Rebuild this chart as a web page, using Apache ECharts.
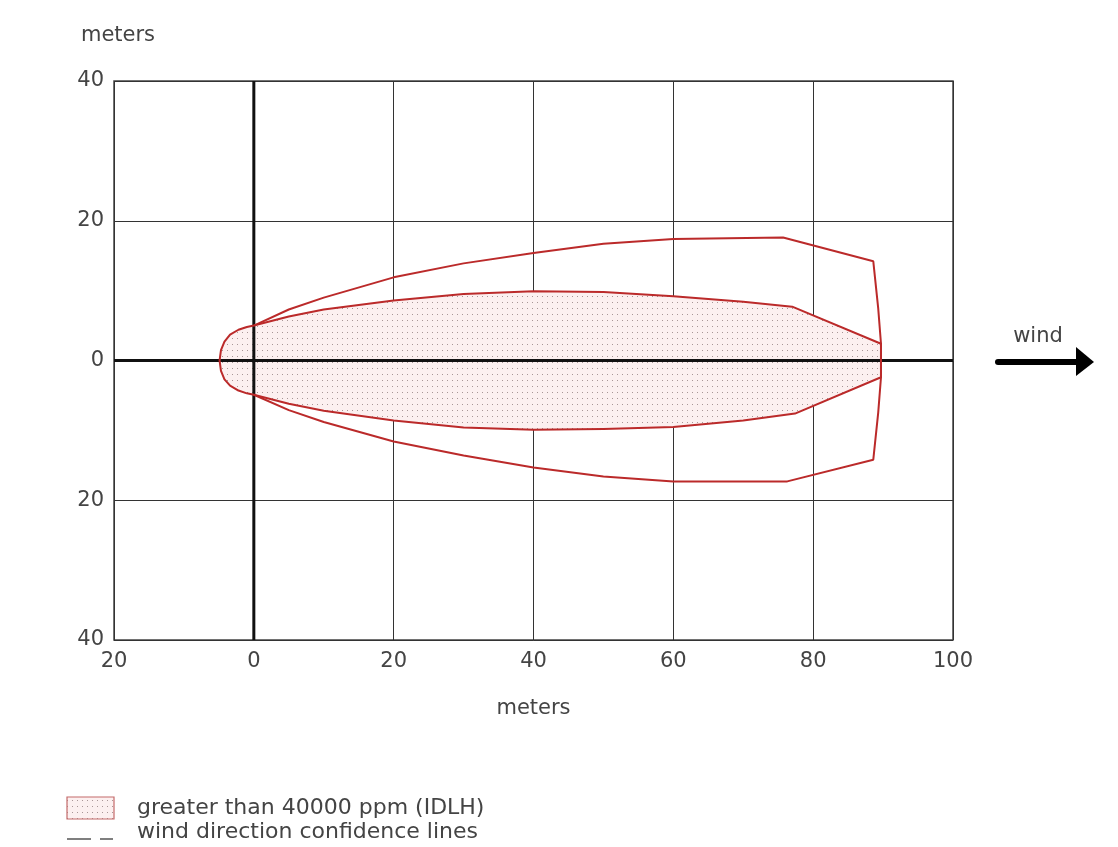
<!DOCTYPE html>
<html>
<head>
<meta charset="utf-8">
<script src="https://cdn.jsdelivr.net/npm/echarts@6/dist/echarts.min.js"></script>
<style>html,body{margin:0;padding:0;background:#fff;}#c{width:1118px;height:847px;}</style>
</head>
<body>
<div id="c"></div>
<script>
// ---- data (meters) ----
const xTicks = [-20, 0, 20, 40, 60, 80, 100];
const yTicks = [-40, -20, 0, 20, 40];
// inner filled region (> 40000 ppm, IDLH) boundary, closed polygon
const innerUpper = [[-4.9,0],[-4.7,1.5],[-4.2,2.7],[-3.4,3.7],[-2.2,4.4],[-1,4.8],[0,5.0],[5,6.3],[10,7.3],[20,8.6],[30,9.5],[40,9.9],[50,9.8],[60,9.2],[70,8.4],[77,7.7],[89.7,2.4]];
const innerLower = [[89.7,-2.4],[77.4,-7.6],[70,-8.6],[60,-9.5],[50,-9.8],[40,-9.9],[30,-9.6],[20,-8.6],[10,-7.2],[5,-6.2],[0,-4.9],[-1,-4.7],[-2.2,-4.3],[-3.4,-3.6],[-4.2,-2.7],[-4.7,-1.5]];
// wind direction confidence lines (outer contour)
const outerLine = [[0,5.0],[5,7.3],[10,9.0],[20,11.9],[30,13.9],[40,15.4],[50,16.7],[60,17.4],[75.7,17.6],[88.6,14.2],[89.3,7.5],[89.7,2.4],[89.7,-2.4],[89.3,-7.5],[88.6,-14.2],[76.3,-17.3],[60,-17.3],[50,-16.6],[40,-15.3],[30,-13.6],[20,-11.6],[10,-8.8],[5,-7.1],[0,-4.9]];
const legendLabels = ['greater than 40000 ppm (IDLH)', 'wind direction confidence lines'];

const innerPoly = innerUpper.concat(innerLower);
const xMin = xTicks[0], xMax = xTicks[xTicks.length-1];
const yMin = yTicks[0], yMax = yTicks[yTicks.length-1];

// dotted fill pattern
function makePattern(){
  const cv = document.createElement('canvas');
  cv.width = 5; cv.height = 6;
  const ctx = cv.getContext('2d');
  ctx.fillStyle = '#fcf0f0';
  ctx.fillRect(0,0,5,6);
  ctx.fillStyle = '#a89696';
  ctx.fillRect(2,2,1,1);
  return cv;
}
const pat = makePattern();
const patFill = {image: pat, repeat: 'repeat'};

const FONT = 'DejaVu Sans';
const RED = '#bb2a2a';
const TXT = '#444';

const chart = echarts.init(document.getElementById('c'));
chart.setOption({
  animation: false,
  grid: {left: 114, right: 165, top: 81, bottom: 207, show: true, borderColor: '#444', borderWidth: 1.5, backgroundColor: 'transparent'},
  xAxis: {
    type: 'value', min: xMin, max: xMax, interval: 20,
    name: 'meters', nameLocation: 'middle', nameGap: 58,
    nameTextStyle: {fontFamily: FONT, fontSize: 21, color: TXT},
    axisLine: {show: false, onZero: false}, axisTick: {show: false},
    axisLabel: {fontFamily: FONT, fontSize: 21, color: TXT, margin: 11, formatter: v => String(Math.abs(v))},
    splitLine: {show: true, lineStyle: {color: '#333', width: 1}}
  },
  yAxis: {
    type: 'value', min: yMin, max: yMax, interval: 20,
    name: 'meters', nameLocation: 'end', nameGap: 35,
    nameTextStyle: {fontFamily: FONT, fontSize: 21, color: TXT, align: 'center', padding: [0, 0, 0, 8]},
    axisLine: {show: false, onZero: false}, axisTick: {show: false},
    axisLabel: {fontFamily: FONT, fontSize: 21, color: TXT, margin: 10, formatter: v => String(Math.abs(v))},
    splitLine: {show: true, lineStyle: {color: '#333', width: 1}}
  },
  series: [
    {
      type: 'custom', name: legendLabels[0], z: 2,
      data: innerPoly,
      renderItem: function(params, api){
        if (params.dataIndex !== 0) return null;
        const pts = innerPoly.map(p => api.coord(p));
        return {type: 'polygon', shape: {points: pts}, style: {fill: patFill, stroke: null}};
      },
      silent: true
    },
    {
      type: 'line', z: 3, data: [[xMin,0],[xMax,0]], showSymbol: false, silent: true,
      lineStyle: {color: '#111', width: 3}
    },
    {
      type: 'line', z: 3, data: [[0,yMin],[0,yMax]], showSymbol: false, silent: true,
      lineStyle: {color: '#111', width: 3}
    },
    {
      type: 'custom', z: 4,
      data: innerPoly,
      renderItem: function(params, api){
        if (params.dataIndex !== 0) return null;
        const pts = innerPoly.map(p => api.coord(p));
        return {type: 'polygon', shape: {points: pts}, style: {fill: null, stroke: RED, lineWidth: 2, lineJoin: 'round'}};
      },
      silent: true
    },
    {
      type: 'line', name: legendLabels[1], z: 4, data: outerLine, showSymbol: false, silent: true,
      lineStyle: {color: RED, width: 2}
    }
  ],
  graphic: [
    {type: 'rect', shape: {x: 67, y: 797, width: 47, height: 22}, style: {fill: patFill, stroke: '#c46a6a', lineWidth: 1.2}},
    {type: 'text', x: 137, y: 808, style: {text: legendLabels[0], font: '22px "DejaVu Sans"', fill: TXT, verticalAlign: 'middle'}},
    {type: 'line', shape: {x1: 67, y1: 839, x2: 91, y2: 839}, style: {stroke: '#555', lineWidth: 1.5}},
    {type: 'line', shape: {x1: 100, y1: 839, x2: 113, y2: 839}, style: {stroke: '#555', lineWidth: 1.5}},
    {type: 'text', x: 137, y: 832, style: {text: legendLabels[1], font: '22px "DejaVu Sans"', fill: TXT, verticalAlign: 'middle'}},
    {type: 'line', shape: {x1: 998, y1: 362, x2: 1080, y2: 362}, style: {stroke: '#000', lineWidth: 6, lineCap: 'round'}},
    {type: 'polygon', shape: {points: [[1076,347],[1094,362],[1076,376]]}, style: {fill: '#000'}},
    {type: 'text', x: 1038, y: 337, style: {text: 'wind', font: '21px "DejaVu Sans"', fill: TXT, align: 'center', verticalAlign: 'middle'}}
  ]
});
</script>
</body>
</html>
